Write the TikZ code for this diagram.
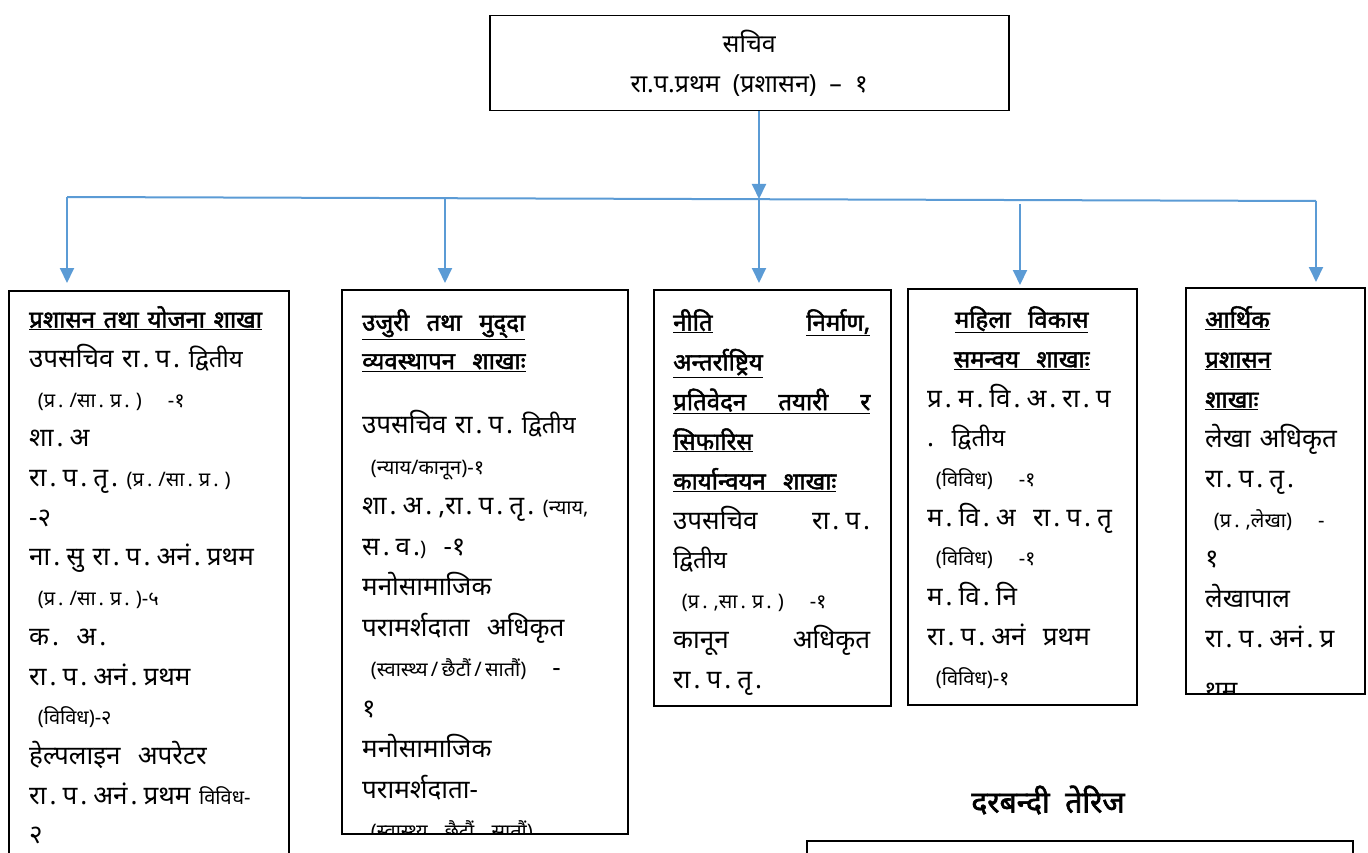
\documentclass[tikz,border=0pt]{standalone}
\usepackage{fontspec}
\setmainfont{Noto Sans}
\newfontfamily\devfont[Script=Devanagari, BoldFont={Noto Sans}, BoldFeatures={FakeBold=2}]{Noto Sans}
\usetikzlibrary{arrows.meta,positioning}
\definecolor{linkblue}{RGB}{91,155,213}

% wide full stops, as in the office font of the chart
\XeTeXinterchartokenstate=1
\newXeTeXintercharclass\dotclass
\XeTeXcharclass`\.=\dotclass
\XeTeXinterchartoks 0 \dotclass = {\kern3pt}
\XeTeXinterchartoks \dotclass 0 = {\kern6pt}
\newcommand{\plaindots}{\XeTeXinterchartokenstate=0\relax}

\newcommand{\sm}[1]{{\fontsize{20}{40}\selectfont #1}}
\newcommand{\md}[1]{{\fontsize{24}{40}\selectfont #1}}
\newcommand{\hd}[1]{{\fontsize{24}{40}\selectfont\bfseries\underline{#1}}}

\tikzset{
  branch/.style={draw, line width=1.5pt, inner sep=0pt, anchor=north west},
  bodytext/.style={anchor=north west, inner sep=0pt, align=left,
    font=\devfont\fontsize{26}{39.7}\selectfont},
  link/.style={linkblue, line width=2pt, -{Triangle[width=14pt,length=15pt]}},
}

\begin{document}
\begin{tikzpicture}[x=1pt,y=-1pt]
    \useasboundingbox (0,0) rectangle (1368,853);

    % Secretary
    \node[draw, line width=1.5pt, minimum width=519pt, minimum height=95pt,
      anchor=north west, align=center,
      font=\devfont\fontsize{25}{43}\selectfont\plaindots] (sachiv) at (489,15)
      {\raisebox{-3pt}{सचिव}\\रा.प.प्रथम\ \ (प्रशासन)\ \ –\ \ १};

    % Branch boxes
    \node[branch, minimum width=280pt, minimum height=600pt] (b1) at (8,290) {};
    \node[branch, minimum width=286pt, minimum height=544pt] (b2) at (341,289) {};
    \node[branch, minimum width=237pt, minimum height=416pt] (b3) at (653,289) {};
    \node[branch, minimum width=229pt, minimum height=416pt] (b4) at (907,288) {};
    \node[branch, minimum width=179pt, minimum height=406pt] (b5) at (1185,287) {};

    % Bus and arrows
    \coordinate (j1) at (67,197);
    \coordinate (j2) at (445,198);
    \coordinate (j3) at (759,199);
    \coordinate (j4) at (1020,200);
    \coordinate (j5) at (1316,201);
    \draw[linkblue, line width=2pt] (j1) -- (j5);
    \draw[link] (sachiv.south -| j3) -- (j3);
    \draw[link, shorten >=7pt] (j1) -- (j1 |- b1.north);
    \draw[link, shorten >=6pt] (j2) -- (j2 |- b2.north);
    \draw[link, shorten >=6pt] (j3) -- (j3 |- b3.north);
    \draw[link, shorten <=4pt, shorten >=3pt] (j4) -- (j4 |- b4.north);
    \draw[link, shorten >=5pt] (j5) -- (j5 |- b5.north);

    % Branch texts
    \begin{scope}
      \clip (b1.north west) rectangle (b1.south east);
      \node[bodytext, text width=240pt, font=\devfont\fontsize{26}{39.7}\selectfont] (b1text) at ([shift={(21,16)}]b1.north west) {%
        \hd{प्रशासन तथा योजना शाखा}\\
        उपसचिव\ रा.प.\ \md{द्वितीय}\\
        \sm{\ (प्र./सा.प्र.)\ \ \ -१}\\
        शा.अ\\
        रा.प.तृ.\ \sm{(प्र./सा.प्र.)}\\
        -२\\
        ना.सु\ रा.प.अनं.प्रथम\\
        \sm{\ (प्र./सा.प्र.)-५}\\
        क.\ \ अ.\\
        रा.प.अनं.प्रथम\\
        \sm{\ (विविध)-२}\\
        हेल्पलाइन\ \ अपरेटर\\
        रा.प.अनं.प्रथम\ \sm{विविध-}\\
        २};
    \end{scope}

    \begin{scope}
      \clip (b2.north west) rectangle (b2.south east);
      \node[bodytext, text width=244pt, font=\devfont\fontsize{26}{40.5}\selectfont] (b2text) at ([shift={(21,20)}]b2.north west) {%
        \hd{उजुरी\ \ तथा\ \ मुद्^^^^200cदा}\\[-2pt]
        \hd{व्यवस्थापन\ \ शाखाः}\\[24pt]
        उपसचिव\ रा.प.\ \md{द्वितीय}\\
        \sm{\ (न्याय/कानून)-१}\\
        शा.अ.,रा.प.तृ.\ \sm{(न्याय,}\\
        स.व.\sm{)}\ \ -१\\
        मनोसामाजिक\\
        परामर्शदाता\ \ अधिकृत\\
        \sm{\ (स्वास्थ्य\,/\,छैटौं\,/\,सातौं)}\ \ \ -\\
        १\\
        मनोसामाजिक\\
        परामर्शदाता-\\
        \sm{\ (स्वास्थ्य\ \ छैटौं\ \ सातौं)}};
    \end{scope}

    \node[bodytext, text width=197pt] (b3text) at ([shift={(20,20)}]b3.north west) {%
      \hd{नीति}\hfill\hd{निर्माण,}\\
      \hd{अन्तर्राष्ट्रिय}\\
      \hd{\hbox to\linewidth{प्रतिवेदन\hfill तयारी\hfill र}}\\
      \hd{सिफारिस}\\
      \hd{कार्यान्वयन\ \ शाखाः}\\
      उपसचिव\hfill रा.प.\\
      \md{द्वितीय}\\
      \sm{\ (प्र.,सा.प्र.)\ \ \ -१}\\
      कानून\hfill अधिकृत\\
      रा.प.तृ.};

    \node[bodytext, text width=189pt] (b4text) at ([shift={(20,18)}]b4.north west) {%
      \hfill\hd{महिला\ \ विकास}\hfill\null\\
      \hfill\hd{समन्वय\ \ शाखाः}\hfill\null\\
      प्र.म.वि.अ.रा.प\\
      .\ \ \md{द्वितीय}\\
      \sm{\ (विविध)\ \ \ -१}\\
      म.वि.अ\ \ रा.प.तृ\\
      \sm{\ (विविध)\ \ \ -१}\\
      म.वि.नि\\
      रा.प.अनं\ \ प्रथम\\
      \sm{\ (विविध)-१}};

    \begin{scope}
      \clip (b5.north west) rectangle (b5.south east);
      \node[bodytext, text width=155pt, font=\devfont\fontsize{26}{40}\selectfont] (b5text) at ([shift={(20,19)}]b5.north west) {%
        \hd{आर्थिक}\\
        \hd{प्रशासन}\\
        \hd{शाखाः}\\
        लेखा\ अधिकृत\\
        रा.प.तृ.\\
        \sm{\ (प्र.,लेखा)\ \ \ -}\\
        १\\
        लेखापाल\\
        रा.प.अनं.प्र\\[12pt]
        थम};
    \end{scope}

    % Staffing table
    \node[font=\devfont\bfseries\fontsize{30}{34}\selectfont] (tablehead) at (1048,800) {दरबन्दी\ \ तेरिज};
    \node[branch, minimum width=546pt, minimum height=60pt] (tbl) at (806,840) {};

\end{tikzpicture}
\end{document}
